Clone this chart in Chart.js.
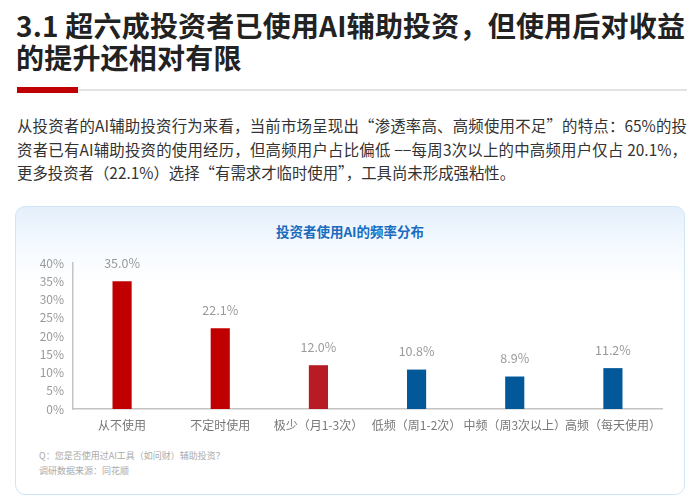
<!DOCTYPE html>
<html>
<head>
<meta charset="utf-8">
<script src="https://cdn.jsdelivr.net/npm/chart.js@4/dist/chart.umd.min.js"></script>
<style>
  html, body { margin: 0; padding: 0; background: #fff; }
  body { width: 700px; height: 502px; position: relative; overflow: hidden;
         font-family: "Noto Sans CJK SC", "Noto Sans", sans-serif; }
  .titre { position: absolute; left: 16px; top: 9px; width: 676px; font-size: 28px; font-weight: bold;
           line-height: 32px; color: #222; letter-spacing: 0.2px; }
  .trait { position: absolute; left: 17px; top: 89px; width: 670px; height: 2px; background: #e2e2e2; }
  .trait-rouge { position: absolute; left: 17px; top: 87px; width: 61px; height: 6px; background: #c00000; }
  .texte { position: absolute; left: 17px; top: 114px; width: 670px; font-size: 15.4px; line-height: 23.5px;
           color: #333; }
  .texte div { white-space: nowrap; }
  .texte .plein { text-align: justify; text-align-last: justify; white-space: normal; }
  .carte { position: absolute; left: 15px; top: 206px; width: 670px; height: 289px; box-sizing: border-box;
           border: 1.5px solid #cfe6f8; border-radius: 10px;
           background: linear-gradient(180deg, #e4effb 0px, #f7fbff 45px, #ffffff 80px); }
  .titre-graph { position: absolute; left: 0; width: 100%; top: 14px; text-align: center; font-size: 13.5px;
                 font-weight: bold; color: #1a6cbf; }
  .conteneur { position: absolute; left: 0; top: 34px; width: 670px; height: 200px; }
  .note { position: absolute; left: 23px; font-size: 9px; color: #aaa; }
</style>
</head>
<body>
<div class="titre">3.1 超六成投资者已使用AI辅助投资，但使用后对收益的提升还相对有限</div>
<div class="trait"></div>
<div class="trait-rouge"></div>
<div class="texte">
  <div class="plein">从投资者的AI辅助投资行为来看，当前市场呈现出“渗透率高、高频使用不足”的特点：65%的投</div>
  <div class="plein">资者已有AI辅助投资的使用经历，但高频用户占比偏低 −−每周3次以上的中高频用户仅占 20.1%，</div>
  <div>更多投资者（22.1%）选择“有需求才临时使用”，工具尚未形成强粘性。</div>
</div>
<div class="carte">
  <div class="titre-graph">投资者使用AI的频率分布</div>
  <div class="conteneur"><canvas id="graphiqueFrequence"></canvas></div>
  <div class="note" style="top:242px">Q：您是否使用过AI工具（如问财）辅助投资？</div>
  <div class="note" style="top:257px">调研数据来源：同花顺</div>
</div>
<script>
// Données
const categories = ['从不使用', '不定时使用', '极少（月1-3次）', '低频（周1-2次）', '中频（周3次以上）', '高频（每天使用）'];
const valeurs = [35.0, 22.1, 12.0, 10.8, 8.9, 11.2];
const couleurs = ['#c00000', '#c00000', '#b71c25', '#03589a', '#03589a', '#03589a'];
const ticksY = [0, 5, 10, 15, 20, 25, 30, 35, 40];

// petit plugin pour écrire les valeurs au-dessus des barres
const etiquettes = {
    id: 'etiquettes',
    afterDatasetsDraw(chart) {
        const ctx = chart.ctx;
        const meta = chart.getDatasetMeta(0);
        ctx.save();
        ctx.font = '12.5px "Noto Sans CJK SC", "Noto Sans", sans-serif';
        ctx.fillStyle = '#9a9a9a';
        ctx.textAlign = 'center';
        ctx.textBaseline = 'middle';
        meta.data.forEach((bar, i) => {
            ctx.fillText(valeurs[i].toFixed(1) + '%', bar.x, bar.y - 18);
        });
        ctx.restore();
    }
};

const ctx = document.getElementById('graphiqueFrequence').getContext('2d');
new Chart(ctx, {
    type: 'bar',
    data: {
        labels: categories,
        datasets: [{
            data: valeurs,
            backgroundColor: couleurs,
            barPercentage: 0.195,
            categoryPercentage: 1
        }]
    },
    options: {
        responsive: true,
        maintainAspectRatio: false,
        animation: false,
        layout: { padding: { left: 0, right: 24, top: 22, bottom: 0 } },
        plugins: {
            legend: { display: false },
            tooltip: { enabled: false }
        },
        scales: {
            x: {
                grid: { display: false, drawTicks: false },
                border: { display: true, color: '#c4c4c4', width: 1.5 },
                ticks: {
                    color: '#777',
                    padding: 9,
                    maxRotation: 0,
                    autoSkip: false,
                    font: { size: 12, family: '"Noto Sans CJK SC", sans-serif' }
                },
                afterFit: function(scale) { scale.height = 32; }
            },
            y: {
                min: 0,
                max: 40,
                grid: { display: false, drawTicks: false },
                border: { display: true, color: '#c4c4c4', width: 1.5 },
                afterBuildTicks: function(scale) { scale.ticks = ticksY.map(v => ({ value: v })); },
                ticks: {
                    color: '#9a9a9a',
                    padding: 9,
                    font: { size: 12, family: '"Noto Sans CJK SC", sans-serif' },
                    callback: function(value) { return value + '%'; }
                },
                afterFit: function(scale) { scale.width = 57; }
            }
        }
    },
    plugins: [etiquettes]
});
</script>
</body>
</html>
